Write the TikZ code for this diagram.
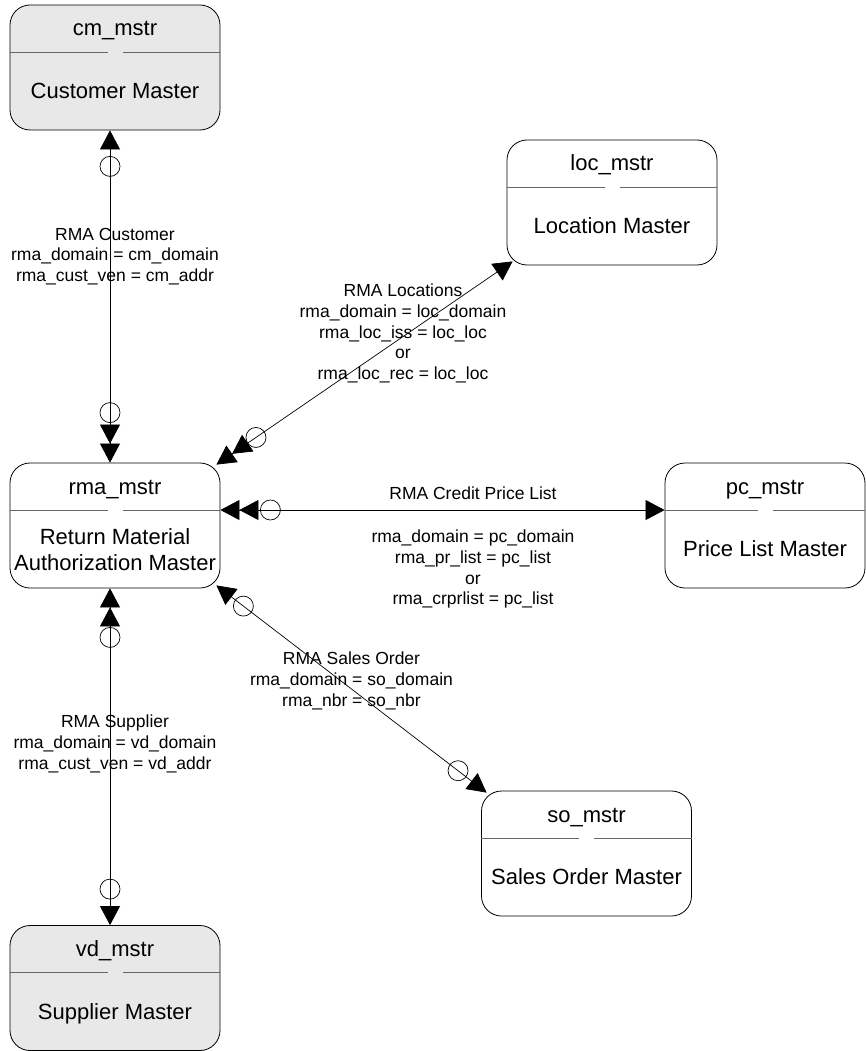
\documentclass[tikz,border=0pt]{standalone}
\usepackage{fontspec}
\setmainfont{Liberation Sans}
\usepackage{xcolor}
\definecolor{mfill}{HTML}{E8E8E8}
\usepackage{tikz}
\usetikzlibrary{arrows.meta, calc, positioning}

\begin{document}
\begin{tikzpicture}[x=1pt, y=-1pt,
    ent/.style={rectangle, rounded corners=20pt, draw=black, line width=0.8pt,
                minimum height=125pt, inner sep=0pt},
    ttl/.style={font=\fontsize{22}{25.5}\selectfont, inner sep=0pt, anchor=base},
    body/.style={font=\fontsize{22}{25.5}\selectfont, align=center,
                 inner sep=0pt, anchor=north},
    div/.style={draw=black!60, line width=0.8pt},
    lbl/.style={font=\fontsize{17.5}{20.8}\selectfont, align=center,
                inner sep=0pt, anchor=north},
    ring/.style={circle, draw, line width=0.7pt, minimum size=20pt, inner sep=0pt},
    rel/.style={line width=0.7pt},
    onehead/.tip={Triangle[length=19pt, width=20pt]},
    twohead/.tip={Triangle[length=19pt, width=20pt, sep=0pt] Triangle[length=19pt, width=20pt, sep=0pt]}]
  \useasboundingbox (0,0) rectangle (866,1051);
  \foreach \n/\x/\y/\w/\f/\t/\b/\o in {
      cm/115/67.5/210/mfill/cm\_mstr/{Customer Master}/15,
      rma/115/525.5/210/white/rma\_mstr/{Return Material\\Authorization Master}/3.3,
      loc/612/202.5/210/white/loc\_mstr/{Location Master}/15,
      pc/765/525.5/200/white/pc\_mstr/{Price List Master}/15,
      so/586.5/853.5/210/white/so\_mstr/{Sales Order Master}/15,
      vd/115/988/210/mfill/vd\_mstr/{Supplier Master}/15}{
    \node[ent, fill=\f, minimum width=\w pt] (\n) at (\x,\y) {};
    \node[ttl] (\n-ttl) at ([yshift=31.5pt]\n.center) {\t};
    \node[body] (\n-body) at ([yshift=-\o pt]\n.center) {\b};
    \draw[div] ([yshift=15.5pt]\n.west) -- ([xshift=-7.5pt, yshift=15.5pt]\n.center);
    \draw[div] ([xshift=7.5pt, yshift=15.5pt]\n.center) -- ([yshift=15.5pt]\n.east);
  }
  \coordinate (cmS) at ([xshift=-5pt]cm.south);
  \coordinate (rmaN) at ([xshift=-5pt]rma.north);
  \coordinate (rmaNE) at ([xshift=-4pt, yshift=-2pt]rma.north east);
  \coordinate (locSW) at ([xshift=6pt, yshift=4pt]loc.south west);
  \coordinate (rmaE) at ([yshift=15.5pt]rma.east);
  \coordinate (pcW) at ([yshift=15.5pt]pc.west);
  \coordinate (rmaSE) at ([xshift=-4pt, yshift=3pt]rma.south east);
  \coordinate (soNW) at ([xshift=5.5pt, yshift=-2pt]so.north west);
  \coordinate (rmaS) at ([xshift=-5pt]rma.south);
  \coordinate (vdN) at ([xshift=-5pt]vd.north);
  \draw[rel, onehead-twohead] (cmS) -- (rmaN);
  \draw[rel, onehead-twohead] (locSW) -- (rmaNE);
  \draw[rel, onehead-twohead] (pcW) -- (rmaE);
  \draw[rel, onehead-onehead] (soNW) -- (rmaSE);
  \draw[rel, onehead-twohead] (vdN) -- (rmaS);
  \node[ring] (cmRing) at ($(cmS)!36pt!(rmaN)$) {};
  \node[ring] (rmaRingN) at ($(rmaN)!50pt!(cmS)$) {};
  \node[ring] (rmaRingNE) at ($(rmaNE)!48pt!(locSW)$) {};
  \node[ring] (rmaRingE) at ($(rmaE)!50pt!(pcW)$) {};
  \node[ring] (rmaRingSE) at ($(rmaSE)!34pt!(soNW)$) {};
  \node[ring] (soRing) at ($(soNW)!36pt!(rmaSE)$) {};
  \node[ring] (rmaRingS) at ($(rmaS)!49pt!(vdN)$) {};
  \node[ring] (vdRing) at ($(vdN)!36pt!(rmaS)$) {};
  \node[lbl] (custLbl) at (115,227.7) {RMA Customer\\rma\_domain = cm\_domain\\rma\_cust\_ven = cm\_addr};
  \node[lbl] (locLbl) at (403,283.7) {RMA Locations\\rma\_domain = loc\_domain\\rma\_loc\_iss = loc\_loc\\or\\rma\_loc\_rec = loc\_loc};
  \node[lbl] (pcLbl) at (473,486.7) {RMA Credit Price List};
  \node[lbl] (pcKeys) at (473,529.7) {rma\_domain = pc\_domain\\rma\_pr\_list = pc\_list\\or\\rma\_crprlist = pc\_list};
  \node[lbl] (soLbl) at (351.5,651.7) {RMA Sales Order\\rma\_domain = so\_domain\\rma\_nbr = so\_nbr};
  \node[lbl] (vdLbl) at (115,714.7) {RMA Supplier\\rma\_domain = vd\_domain\\rma\_cust\_ven = vd\_addr};
\end{tikzpicture}
\end{document}
